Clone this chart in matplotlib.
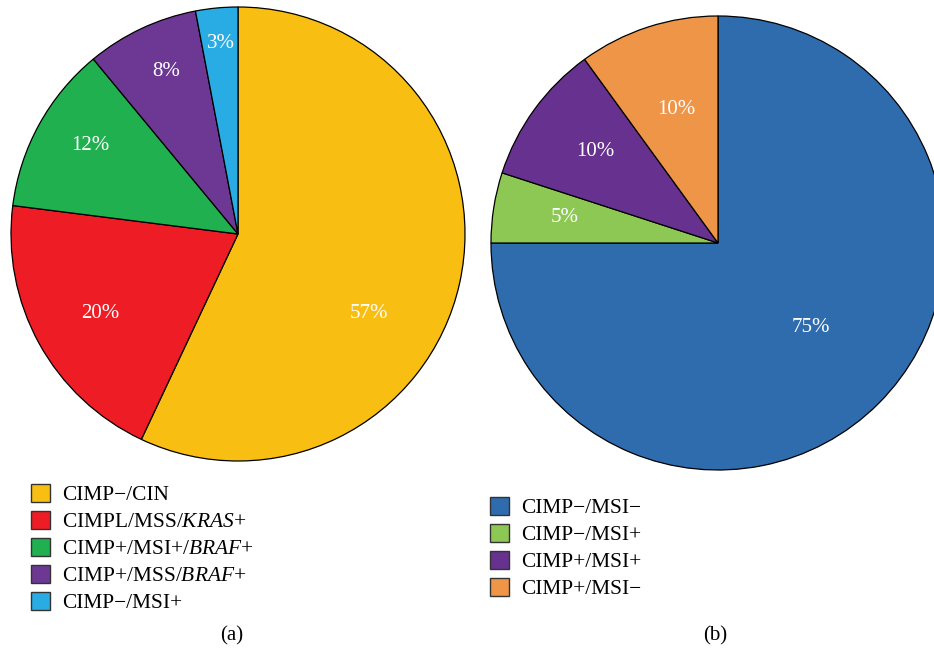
import matplotlib
matplotlib.use('Agg')
import matplotlib.pyplot as plt
from matplotlib.patches import Patch

plt.rcParams['font.family'] = ['Liberation Serif', 'DejaVu Serif']
plt.rcParams['mathtext.fontset'] = 'custom'
plt.rcParams['mathtext.rm'] = 'Liberation Serif'
plt.rcParams['mathtext.it'] = 'Liberation Serif:italic'

# panel (a)
labels_a = ['CIMP−/CIN', 'CIMPL/MSS/$\\mathit{KRAS}$+', 'CIMP+/MSI+/$\\mathit{BRAF}$+',
            'CIMP+/MSS/$\\mathit{BRAF}$+', 'CIMP−/MSI+']
values_a = [57, 20, 12, 8, 3]
colors_a = ['#F9BE12', '#EE1D25', '#20B04F', '#6D3894', '#29ACE3']

# panel (b)
labels_b = ['CIMP−/MSI−', 'CIMP−/MSI+', 'CIMP+/MSI+', 'CIMP+/MSI−']
values_b = [75, 5, 10, 10]
colors_b = ['#2F6CAE', '#8DC854', '#67328F', '#EE9548']

W, H = 934, 650
fig = plt.figure(figsize=(W / 100, H / 100), dpi=100)
ax = fig.add_axes([0, 0, 1, 1])

wedge_style = dict(edgecolor='black', linewidth=0.9)
r = 227

# pie (a)
ca = (238, H - 234)
ax.pie(values_a, colors=colors_a, startangle=90, counterclock=False,
       center=ca, radius=r, wedgeprops=wedge_style, frame=True)
text_pos_a = [(369, 313), (100, 314), (90, 145), (166, 72), (221, 44)]
for v, (x, y) in zip(values_a, text_pos_a):
    ax.text(x, H - y, f'{v}%', color='white', fontsize=15, ha='center', va='center')

# pie (b)
cb = (718, H - 243)
ax.pie(values_b, colors=colors_b, startangle=90, counterclock=False,
       center=cb, radius=r, wedgeprops=wedge_style, frame=True)
text_pos_b = [(811, 328), (565, 218), (595, 152), (676, 109)]
for v, (x, y) in zip(values_b, text_pos_b):
    ax.text(x, H - y, f'{v}%', color='white', fontsize=15, ha='center', va='center')

ax.set_xlim(0, W)
ax.set_ylim(0, H)
ax.set_aspect('equal')
ax.axis('off')

leg_kw = dict(loc='upper left', frameon=False, fontsize=15.4, borderpad=0,
              borderaxespad=0, handlelength=0.9, handleheight=0.9,
              handletextpad=0.55, labelspacing=0.27, bbox_transform=ax.transData)

handles_a = [Patch(facecolor=c, edgecolor='#333333', linewidth=1) for c in colors_a]
leg_a = ax.legend(handles_a, labels_a, bbox_to_anchor=(31, H - 484), **leg_kw)
ax.add_artist(leg_a)

handles_b = [Patch(facecolor=c, edgecolor='#333333', linewidth=1) for c in colors_b]
ax.legend(handles_b, labels_b, bbox_to_anchor=(490, H - 497), **leg_kw)

ax.text(232, H - 636, '(a)', fontsize=15, ha='center', va='center')
ax.text(715, H - 636, '(b)', fontsize=15, ha='center', va='center')

fig.savefig('out.png', dpi=100)
